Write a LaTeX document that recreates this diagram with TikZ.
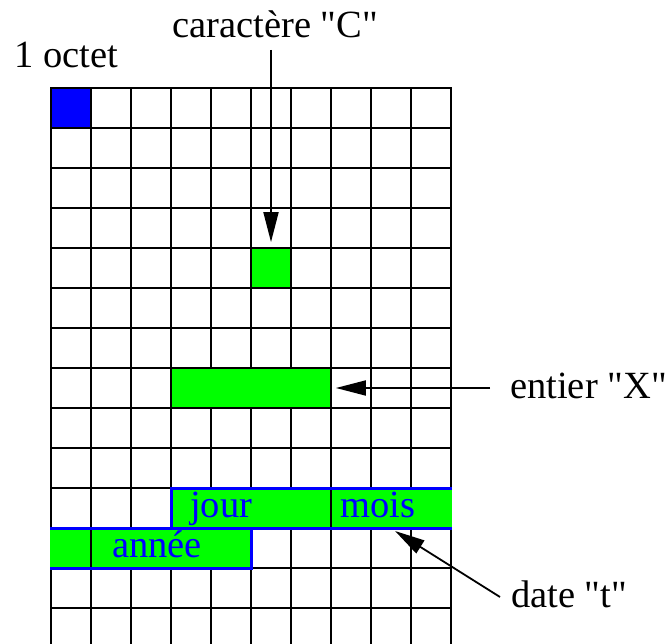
\documentclass[tikz,border=0pt]{standalone}
\usepackage{fontspec}
\setmainfont{Liberation Serif}[Ligatures=TeXOff]
\usetikzlibrary{arrows.meta}
\begin{document}
\begin{tikzpicture}[x=1pt,y=-1pt,
  lbl/.style={anchor=base west,inner sep=0pt,font=\fontsize{38.5}{46}\selectfont},
  blbl/.style={lbl,text=blue},
  gridln/.style={line width=1.8pt,line cap=rect},
  ptr/.style={line width=1.8pt,-{Triangle[length=30pt,width=15pt]}},
  block/.style={fill=green,inner sep=0pt,minimum height=40pt},
  cell/.style={block,draw=black,line width=1.8pt},
  span/.style={draw=blue,line width=3pt}
  ]
\useasboundingbox (0,0) rectangle (672,644);
% grid
\foreach \i in {0,...,10} \draw[gridln] (51+40*\i,88) -- (51+40*\i,648);
\foreach \j in {0,...,13} \draw[gridln] (51,88+40*\j) -- (451,88+40*\j);
% filled cells
\node[cell,fill=blue,minimum width=40pt] (oct) at (71,108) {};
\node[cell,minimum width=40pt] (C) at (271,268) {};
\node[cell,minimum width=160pt] (X) at (251,388) {};
\node[block,minimum width=281pt] (T1) at (311.5,508) {};
\node[block,minimum width=201pt] (T2) at (150.5,548) {};
\draw[gridln] (331,488) -- (331,528);
\draw[gridln] (91,528) -- (91,568);
% date outline
\draw[span] (452,488) -- (171,488) -- (171,528);
\draw[span] (50,528) -- (452,528);
\draw[span] (50,568) -- (251,568) -- (251,528);
% blue labels
\node[blbl] (jour) at (190,517) {jour};
\node[blbl] (mois) at (340,517) {mois};
\node[blbl] (annee) at (112,557) {année};
% black labels
\node[lbl] (loct) at (14,68) {1 octet};
\node[lbl] (lC) at (172,38) {caractère "C"};
\node[lbl] (lX) at (510,398) {entier "X"};
\node[lbl] (lT) at (511,607) {date "t"};
% arrows
\coordinate (sC) at (271,50);
\coordinate (sX) at (490,388);
\coordinate (sT) at (500,597);
\coordinate (tT) at (395,531);
\draw[ptr] (sC) -- ([yshift=5pt]C.north);
\draw[ptr] (sX) -- ([xshift=4pt]X.east);
\draw[ptr] (sT) -- (tT);
\end{tikzpicture}
\end{document}
